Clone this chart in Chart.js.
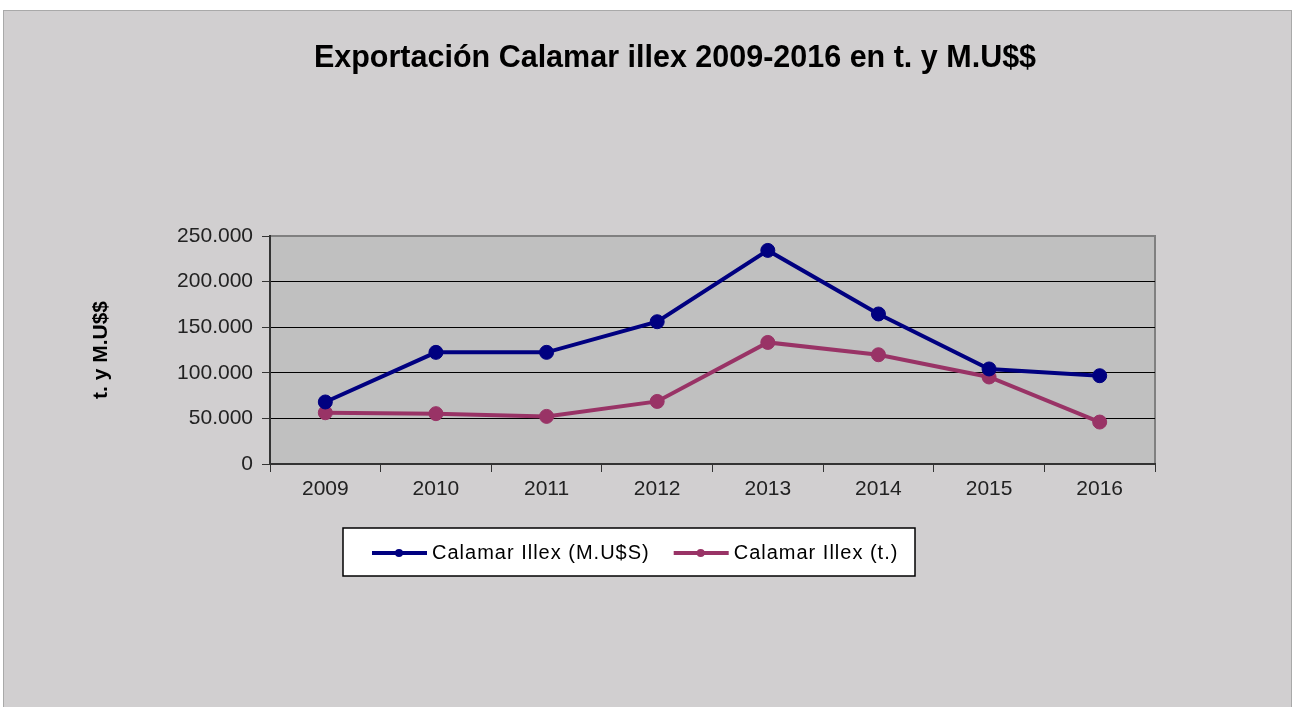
<!DOCTYPE html>
<html lang="es">
<head>
<meta charset="utf-8">
<title>Exportación Calamar illex 2009-2016</title>
<script src="https://cdn.jsdelivr.net/npm/chart.js@4.4.1/dist/chart.umd.min.js"></script>
<style>
  html, body { margin: 0; padding: 0; background: #fff; }
  body { width: 1297px; height: 707px; position: relative; overflow: hidden; }
  .marco {
    position: absolute; left: 3px; top: 10px; width: 1289px; height: 720px;
    background: #d1cfd0; border: 1px solid #a9a9a9; box-sizing: border-box;
  }
  #grafico { position: absolute; left: 0; top: 0; }
</style>
</head>
<body>
<div class="marco"></div>
<canvas id="grafico" width="1297" height="707"></canvas>
<script>
const anios = ['2009', '2010', '2011', '2012', '2013', '2014', '2015', '2016']
const exportUSD = [68000, 122400, 122400, 156000, 234200, 164500, 104200, 96800]
const exportTon = [56200, 55200, 52200, 68600, 133300, 119800, 95400, 46000]
const ticksY = [0, 50000, 100000, 150000, 200000, 250000]
const titulo = 'Exportación Calamar illex 2009-2016 en t. y M.U$$'

const FUENTE = '"Liberation Sans", Arial, sans-serif'

// miles con punto, como en el original
function formatoMiles(v) {
  return String(v).replace(/\B(?=(\d{3})+(?!\d))/g, '.')
}

// fondo gris del área de trazado + título
const fondoArea = {
  id: 'fondoArea',
  beforeDraw(chart) {
    const { ctx, chartArea: a } = chart
    ctx.save()
    ctx.fillStyle = '#c0c0c0'
    ctx.fillRect(a.left, a.top, a.right - a.left, a.bottom - a.top)
    ctx.strokeStyle = '#808080'
    ctx.lineWidth = 2
    ctx.beginPath()
    ctx.moveTo(a.left, a.top)
    ctx.lineTo(a.right, a.top)
    ctx.lineTo(a.right, a.bottom)
    ctx.stroke()

    // el título no está centrado en el área del gráfico
    ctx.fillStyle = '#000'
    ctx.font = 'bold 30.5px ' + FUENTE
    ctx.textAlign = 'center'
    ctx.textBaseline = 'middle'
    ctx.fillText(titulo, 675, 59)
    ctx.restore()
  },
}

// leyenda en caja blanca debajo del gráfico
const leyendaCaja = {
  id: 'leyendaCaja',
  afterDraw(chart) {
    const ctx = chart.ctx
    const caja = { x: 343, y: 528, w: 572, h: 48 }
    ctx.save()
    ctx.fillStyle = '#fff'
    ctx.fillRect(caja.x, caja.y, caja.w, caja.h)
    ctx.strokeStyle = '#000'
    ctx.lineWidth = 1.5
    ctx.strokeRect(caja.x, caja.y, caja.w, caja.h)

    ctx.font = '20px ' + FUENTE
    ctx.letterSpacing = '1px'
    ctx.textBaseline = 'middle'
    const y = caja.y + caja.h / 2 + 1
    let x = caja.x + 29
    chart.data.datasets.forEach(ds => {
      ctx.strokeStyle = ds.borderColor
      ctx.lineWidth = 4
      ctx.beginPath()
      ctx.moveTo(x, y)
      ctx.lineTo(x + 55, y)
      ctx.stroke()
      ctx.fillStyle = ds.borderColor
      ctx.beginPath()
      ctx.arc(x + 27, y, 4, 0, Math.PI * 2)
      ctx.fill()
      ctx.fillStyle = '#000'
      ctx.fillText(ds.label, x + 60, y)
      x += 60 + ctx.measureText(ds.label).width + 24
    })
    ctx.restore()
  },
}

const ctx = document.getElementById('grafico').getContext('2d')

const chart = new Chart(ctx, {
  type: 'line',
  data: {
    labels: anios,
    datasets: [
      {
        label: 'Calamar Illex (M.U$S)',
        data: exportUSD,
        borderColor: '#000080',
        backgroundColor: '#000080',
        borderWidth: 4,
        pointRadius: 7,
        pointBorderWidth: 1,
        tension: 0,
      },
      {
        label: 'Calamar Illex (t.)',
        data: exportTon,
        borderColor: '#993366',
        backgroundColor: '#993366',
        borderWidth: 4,
        pointRadius: 7,
        pointBorderWidth: 1,
        tension: 0,
      },
    ],
  },
  options: {
    responsive: false,
    animation: false,
    devicePixelRatio: 1,
    layout: {
      padding: { left: 85, right: 142, top: 236, bottom: 198 },
    },
    plugins: {
      legend: { display: false },
      tooltip: { enabled: false },
      title: { display: false },
    },
    scales: {
      x: {
        offset: true,
        grid: {
          offset: true,
          drawOnChartArea: false,
          drawTicks: true,
          tickLength: 8,
          tickColor: '#333',
        },
        border: { display: true, color: '#333', width: 2 },
        ticks: {
          color: '#222',
          padding: 5,
          maxRotation: 0,
          font: { family: FUENTE, size: 21 },
        },
        afterFit: scale => {
          scale.height = 45
        },
      },
      y: {
        min: 0,
        max: 250000,
        afterBuildTicks: scale => {
          scale.ticks = ticksY.map(v => ({ value: v }))
        },
        grid: {
          color: c => (c.tick && c.tick.value === 250000 ? '#808080' : '#000'),
          lineWidth: 1,
          tickLength: 8,
          tickColor: '#333',
        },
        border: { display: true, color: '#333', width: 2 },
        ticks: {
          color: '#222',
          padding: 9,
          font: { family: FUENTE, size: 21 },
          callback: v => formatoMiles(v),
        },
        title: {
          display: true,
          text: 't. y M.U$$',
          color: '#000',
          font: { family: FUENTE, size: 21, weight: 'bold' },
          padding: { top: 4, bottom: 4 },
        },
        afterFit: scale => {
          scale.width = 185
        },
      },
    },
  },
  plugins: [fondoArea, leyendaCaja],
})
</script>
</body>
</html>
